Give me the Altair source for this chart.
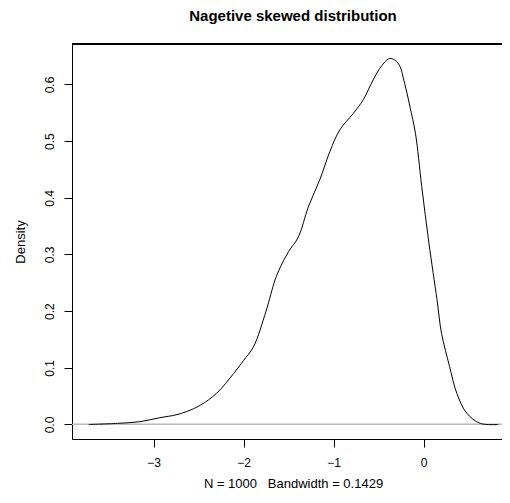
import altair as alt
import pandas as pd

# Density curve (x value, density)
xs = [-3.72, -3.40, -3.15, -2.93, -2.75, -2.63, -2.48, -2.30, -2.11, -2.00,
      -1.89, -1.75, -1.65, -1.59, -1.50, -1.39, -1.28, -1.15, -1.04, -0.93,
      -0.78, -0.67, -0.56, -0.46, -0.37, -0.28, -0.21, -0.15, -0.09, -0.02,
      0.06, 0.15, 0.20, 0.29, 0.37, 0.48, 0.63, 0.83]
dens = [0.000, 0.002, 0.005, 0.012, 0.017, 0.023, 0.034, 0.055, 0.090, 0.113,
        0.137, 0.200, 0.255, 0.278, 0.305, 0.331, 0.384, 0.433, 0.482, 0.520,
        0.549, 0.573, 0.608, 0.634, 0.646, 0.637, 0.602, 0.560, 0.514, 0.420,
        0.320, 0.220, 0.161, 0.102, 0.055, 0.020, 0.002, 0.000]

x_ticks = [-3, -2, -1, 0]
y_ticks = [0.0, 0.1, 0.2, 0.3, 0.4, 0.5, 0.6]
title_text = "Nagetive skewed distribution"
x_title = "N = 1000\u00a0\u00a0\u00a0Bandwidth = 0.1429"
y_title = "Density"

df = pd.DataFrame({"x": xs, "density": dens})

FONT = "Liberation Sans"
W, H = 430, 395

x_scale = alt.Scale(domain=[-3.906, 0.872], nice=False, zero=False)
y_scale = alt.Scale(domain=[-0.0256, 0.6714], nice=False, zero=False)

x_axis = alt.Axis(values=x_ticks, format="d", title=x_title, domain=True,
                  domainColor="black", domainWidth=1,
                  grid=False, tickSize=8, tickColor="black", labelPadding=10,
                  labelFontSize=12, labelColor="black", labelFont=FONT,
                  titleFont=FONT, titleFontSize=13, titleFontWeight="normal",
                  titleColor="black", titleBaseline="alphabetic", titleY=48,
                  titleX=221, titleAlign="center")
y_axis = alt.Axis(values=y_ticks, format=".1f", title=y_title, domain=True,
                  domainColor="black", domainWidth=1,
                  grid=False, tickSize=8, tickColor="black", labelPadding=10.5,
                  labelAngle=270, labelAlign="center", labelBaseline="alphabetic",
                  labelFontSize=12, labelColor="black", labelFont=FONT,
                  titleFont=FONT, titleFontSize=13, titleFontWeight="normal",
                  titleColor="black", titleBaseline="alphabetic", titleX=-47.5,
                  titleY=197.5, titleAngle=270, titleAlign="center")

top_border = alt.Chart(df).mark_rule(color="black", strokeWidth=1).encode(
    y=alt.value(0), x=alt.value(0), x2=alt.value(W)
)

zero_line = alt.Chart(df).mark_rule(color="#bebebe", strokeWidth=1).encode(
    y=alt.datum(0, scale=y_scale, axis=y_axis)
)

curve = alt.Chart(df).mark_line(color="black", strokeWidth=1,
                                interpolate="catmull-rom").encode(
    x=alt.X("x:Q", scale=x_scale, axis=x_axis),
    y=alt.Y("density:Q", scale=y_scale, axis=y_axis),
)

chart = alt.layer(zero_line, curve, top_border).properties(
    width=W,
    height=H,
    autosize=alt.AutoSizeParams(type="none"),
    padding={"left": 64, "top": 36, "right": 0, "bottom": 51},
    title=alt.TitleParams(title_text, font=FONT, fontSize=15, fontWeight="bold",
                          color="black", baseline="alphabetic", offset=7.8,
                          anchor="middle", dx=6),
).configure_view(stroke=None).configure(background="white")

chart.save("out.html", embed_options={"renderer": "svg", "actions": False})
